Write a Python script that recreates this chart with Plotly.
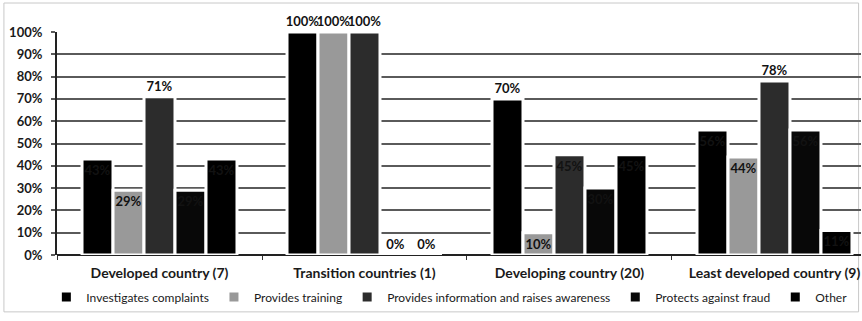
import plotly.graph_objects as go

categories = ["Developed country (7)", "Transition countries (1)", "Developing country (20)", "Least developed country (9)"]
series_names = ["Investigates complaints", "Provides training", "Provides information and raises awareness",
                "Protects against fraud", "Other"]
investigates = [43, 100, 70, 56]
training = [29, 100, 10, 44]
information = [71, 100, 45, 78]
fraud = [29, 0, 30, 56]
other = [43, 0, 45, 11]
values = [investigates, training, information, fraud, other]
y_ticks = [0, 10, 20, 30, 40, 50, 60, 70, 80, 90, 100]

colors = ["#000000", "#999999", "#2c2c2c", "#080808", "#000000"]
# label placement per bar (inside end vs outside end), as in the original
positions = [
    ["inside", "outside", "outside", "inside"],
    ["inside", "outside", "inside", "inside"],
    ["outside", "outside", "inside", "outside"],
    ["inside", "outside", "inside", "inside"],
    ["inside", "outside", "inside", "inside"],
]

lab_font = dict(family="Lato", size=13, color="#121212", weight="bold")
fig = go.Figure()
for name, vals, col, pos in zip(series_names, values, colors, positions):
    fig.add_trace(go.Bar(
        x=categories, y=vals, name=name,
        marker=dict(color=col, line=dict(color="white", width=3)),
        text=[f"{v}%" for v in vals], textposition=pos,
        insidetextanchor="end", textangle=0,
        textfont=lab_font, insidetextfont=lab_font, outsidetextfont=lab_font,
        constraintext="none", cliponaxis=False,
    ))

fig.update_layout(
    width=862, height=321,
    margin=dict(l=57, r=1, t=32, b=66, autoexpand=False),
    paper_bgcolor="white", plot_bgcolor="rgba(0,0,0,0)",
    barmode="group", bargap=0.244, bargroupgap=0,
    font=dict(family="Lato", color="#1a1a1a"),
    showlegend=True,
    legend=dict(orientation="h", x=0.488, xanchor="center", y=-0.188, yanchor="middle",
                font=dict(family="Lato", size=12, color="#1a1a1a"),
                itemwidth=30, tracegroupgap=0),
    xaxis=dict(type="category", range=[-0.5, 3.422], showgrid=False,
               ticks="outside", tickson="boundaries", ticklen=4, tickcolor="#333",
               ticklabelstandoff=8,
               tickfont=dict(family="Lato", size=14, color="#1a1a1a", weight="bold"),
               showline=False, zeroline=False),
    yaxis=dict(range=[0, 100], tickvals=y_ticks, ticktext=[f"{v}%" for v in y_ticks],
               showgrid=True, gridcolor="#5a5a5a", gridwidth=2,
               ticks="outside", ticklen=4, tickcolor="#5a5a5a", tickwidth=2,
               ticklabelstandoff=6,
               tickfont=dict(family="Lato", size=13, color="#1a1a1a", weight="bold"),
               showline=True, linecolor="#222", linewidth=2,
               zeroline=True, zerolinecolor="#222", zerolinewidth=2),
)
fig.add_shape(type="rect", xref="paper", yref="paper", x0=-0.066, x1=0.997, y0=-0.255, y1=1.13,
              line=dict(color="#c8c8c8", width=1), layer="below")
fig.write_html("out.html")
